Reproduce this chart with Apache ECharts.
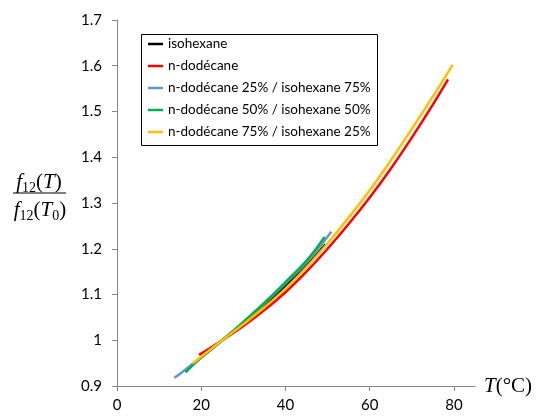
<!DOCTYPE html>
<html>
<head>
<meta charset="utf-8">
<script src="https://cdn.jsdelivr.net/npm/echarts@6/dist/echarts.min.js"></script>
<style>
html,body{margin:0;padding:0;background:#fff;}
#chart{width:537px;height:417px;}
</style>
</head>
<body>
<div id="chart"></div>
<script>
// ---- data ----
const seriesNames = [
  'isohexane',
  'n-dodécane',
  'n-dodécane 25% / isohexane 75%',
  'n-dodécane 50% / isohexane 50%',
  'n-dodécane 75% / isohexane 25%'
];
const T_iso = [16, 20, 25, 30, 35, 40, 45, 49.5];
const F_iso = [0.933, 0.963, 1.0, 1.037, 1.077, 1.119, 1.163, 1.21];

const T_dod = [19.5, 25, 30, 35, 40, 45, 50, 55, 60, 65, 70, 75, 78.6];
const F_dod = [0.968, 1.0, 1.031, 1.066, 1.105, 1.15, 1.2, 1.254, 1.312, 1.375, 1.443, 1.515, 1.57];

const T_25 = [13.6, 15, 20, 25, 30, 35, 40, 45, 50.9];
const F_25 = [0.918, 0.927, 0.962, 1.0, 1.039, 1.08, 1.124, 1.17, 1.237];

const T_50 = [16.3, 20, 25, 30, 35, 40, 45, 49.3];
const F_50 = [0.93, 0.962, 1.0, 1.04, 1.082, 1.127, 1.174, 1.226];

const T_75 = [17.9, 20, 25, 30, 35, 40, 45, 50, 55, 60, 65, 70, 75, 79.7];
const F_75 = [0.949, 0.964, 1.0, 1.035, 1.072, 1.113, 1.16, 1.212, 1.268, 1.328, 1.393, 1.462, 1.533, 1.602];

const xTicks = [0, 20, 40, 60, 80];
const yTicks = [0.9, 1.0, 1.1, 1.2, 1.3, 1.4, 1.5, 1.6, 1.7];

const colors = ['#000000', '#FF0000', '#5B9BD5', '#00B050', '#FFC000'];
const Ts = [T_iso, T_dod, T_25, T_50, T_75];
const Fs = [F_iso, F_dod, F_25, F_50, F_75];

function pairs(t, f) { return t.map((v, i) => [v, f[i]]); }

const chart = echarts.init(document.getElementById('chart'));
const axisColor = '#868686';
const labelFont = 'Lato, "Open Sans", sans-serif';
const serif = '"Liberation Serif", serif';

function fracRich() {
  return {
    i: { fontFamily: serif, fontStyle: 'italic', fontSize: 21, lineHeight: 26, verticalAlign: 'middle', fill: '#000' },
    n: { fontFamily: serif, fontSize: 21, lineHeight: 26, verticalAlign: 'middle', fill: '#000' },
    s: { fontFamily: serif, fontSize: 14, lineHeight: 13, verticalAlign: 'bottom', fill: '#000' }
  };
}

const option = {
  animation: false,
  backgroundColor: '#fff',
  grid: { left: 117, right: 62, top: 20, bottom: 31, containLabel: false },
  xAxis: {
    type: 'value', min: 0, max: 85, interval: 20,
    axisLine: { onZero: false, lineStyle: { color: axisColor, width: 1 } },
    axisTick: { show: true, length: 5, customValues: xTicks, lineStyle: { color: axisColor } },
    axisLabel: { customValues: xTicks, margin: 12, fontSize: 15, fontFamily: labelFont, color: '#000' },
    splitLine: { show: false },
    name: '{i|T}{n|(°C)}',
    nameLocation: 'end',
    nameGap: 9,
    nameTextStyle: {
      verticalAlign: 'middle',
      rich: {
        i: { fontFamily: serif, fontStyle: 'italic', fontSize: 21, color: '#000' },
        n: { fontFamily: serif, fontSize: 21, color: '#000' }
      }
    }
  },
  yAxis: {
    type: 'value', min: 0.9, max: 1.7, interval: 0.1,
    axisLine: { show: true, lineStyle: { color: axisColor, width: 1 } },
    axisTick: { show: true, length: 5, customValues: yTicks, lineStyle: { color: axisColor } },
    axisLabel: {
      customValues: yTicks, margin: 15, fontSize: 15, fontFamily: labelFont, color: '#000',
      formatter: v => (Math.abs(v - 1) < 1e-9 ? '1' : (+v).toFixed(1))
    },
    splitLine: { show: false }
  },
  legend: {
    orient: 'vertical',
    left: 148, top: 36,
    padding: 0,
    itemGap: 6,
    itemWidth: 15, itemHeight: 2.5,
    icon: 'rect',
    textStyle: { fontSize: 13.5, fontFamily: labelFont, color: '#000', lineHeight: 16 },
    data: seriesNames
  },
  series: seriesNames.map((name, k) => ({
    name: name,
    type: 'line',
    smooth: 0.4,
    showSymbol: false,
    symbol: 'none',
    color: colors[k],
    lineStyle: { width: 2.5, color: colors[k] },
    data: pairs(Ts[k], Fs[k]),
    z: 2 + k
  })),
  graphic: [
    { type: 'rect', z: 0, shape: { x: 141.5, y: 34.5, width: 236, height: 111 },
      style: { fill: '#fff', stroke: '#000', lineWidth: 1 } },
    { type: 'text', x: 39, y: 182, z: 10,
      style: { text: '{i|f}{s|12}{n|(}{i|T}{n|)}', align: 'center', verticalAlign: 'middle', rich: fracRich() } },
    { type: 'line', z: 10, shape: { x1: 13, y1: 193, x2: 66, y2: 193 },
      style: { stroke: '#000', lineWidth: 1 } },
    { type: 'text', x: 40, y: 210, z: 10,
      style: { text: '{i|f}{s|12}{n|(}{i|T}{s|0}{n|)}', align: 'center', verticalAlign: 'middle', rich: fracRich() } }
  ]
};
chart.setOption(option);
</script>
</body>
</html>
